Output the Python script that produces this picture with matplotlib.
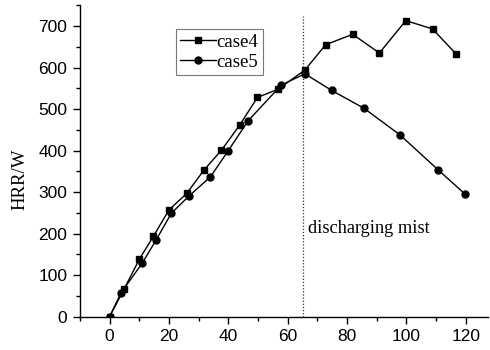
import matplotlib
matplotlib.use('Agg')
import matplotlib.pyplot as plt
from matplotlib.ticker import MultipleLocator

# 数据
case4_t = [0, 5, 10, 14.8, 20, 26, 31.8, 37.7, 43.9, 49.8, 56.8, 65.8, 72.8, 81.9, 90.9, 99.8, 108.8, 116.7]
case4_hrr = [0, 68, 138, 194, 257, 297, 353, 401, 462, 528, 548, 594, 655, 680, 635, 713, 693, 633]

case5_t = [0, 3.9, 11, 15.7, 20.8, 26.8, 34, 40, 46.7, 57.9, 65.8, 74.8, 85.7, 97.8, 110.8, 119.8]
case5_hrr = [0, 58, 129, 185, 249, 291, 337, 400, 472, 558, 585, 545, 502, 438, 353, 295]

mist_t = 65
mist_label = 'discharging mist'

serif = ['Liberation Serif', 'DejaVu Serif']
sans = ['Liberation Sans', 'DejaVu Sans']

fig = plt.figure(figsize=(4.9, 3.5), dpi=100)
ax = fig.add_axes([0.163, 0.095, 0.833, 0.890])

ax.plot(case4_t, case4_hrr, color='black', lw=1.0, marker='s', ms=4.5, label='case4')
ax.plot(case5_t, case5_hrr, color='black', lw=1.0, marker='o', ms=5, label='case5')

ax.axvline(mist_t, ymin=0, ymax=724 / 750, color='#333333', lw=0.9, ls=(0, (1, 1.5)))
ax.text(mist_t + 2, 213, mist_label, fontsize=13.2, family=serif, va='center', ha='left')

ax.set_xlim(-10, 127.5)
ax.set_ylim(0, 750)
ax.xaxis.set_major_locator(MultipleLocator(20))
ax.xaxis.set_minor_locator(MultipleLocator(10))
ax.yaxis.set_major_locator(MultipleLocator(100))
ax.yaxis.set_minor_locator(MultipleLocator(50))
ax.tick_params(which='major', direction='out', length=5, width=1, labelsize=12.5, pad=4)
ax.tick_params(which='minor', direction='out', length=3, width=1)
for lab in ax.get_xticklabels() + ax.get_yticklabels():
    lab.set_family(sans)

for s in ['top', 'right']:
    ax.spines[s].set_visible(False)
for s in ['left', 'bottom']:
    ax.spines[s].set_linewidth(1.0)

ax.set_ylabel('HRR/W', fontsize=13.5, family=serif)
ax.yaxis.set_label_coords(-0.125, 0.44)

leg = ax.legend(loc='upper left', bbox_to_anchor=(0.235, 0.924), prop={'family': serif, 'size': 13.5},
                fancybox=False, edgecolor='#777777', framealpha=1, handlelength=1.9,
                handletextpad=0.0, borderpad=0.25, labelspacing=0.15, borderaxespad=0)
leg.get_frame().set_linewidth(0.8)

fig.savefig('out.png', dpi=100)
